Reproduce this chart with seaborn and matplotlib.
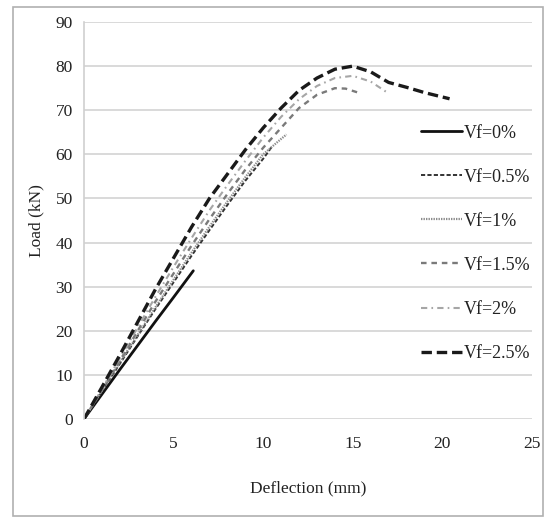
import numpy as np
import pandas as pd
import matplotlib
matplotlib.use("Agg")
import matplotlib.pyplot as plt
import seaborn as sns
from matplotlib.patches import Rectangle

# Load-deflection curves
x_0   = [0, 1, 2, 3, 4, 5, 6.1]
y_0   = [0, 5.6, 11.2, 16.7, 22.2, 27.6, 33.6]
x_05  = [0, 1, 2, 3, 4, 5, 6, 7, 8, 9, 10, 10.5]
y_05  = [0, 6.3, 12.5, 18.8, 25, 31, 37, 42.8, 48.5, 54, 59, 61.8]
x_1   = [0, 1, 2, 3, 4, 5, 6, 7, 8, 9, 10, 11, 11.3]
y_1   = [0, 6.4, 12.8, 19.1, 25.4, 31.6, 37.7, 43.6, 49.3, 54.8, 60, 63.5, 64.5]
x_15  = [0, 1, 2, 3, 4, 5, 6, 7, 8, 9, 10, 11, 12, 13, 14, 14.6, 15.3]
y_15  = [0, 6.5, 13.2, 20, 26.7, 33, 39.3, 45.3, 51, 56.5, 61.5, 66, 70.5, 73.5, 75, 74.9, 74]
x_2   = [0, 1, 2, 3, 4, 5, 6, 7, 8, 9, 10, 11, 12, 13, 14, 15, 16, 17]
y_2   = [0, 6.8, 13.8, 20.8, 27.8, 34.5, 41, 47.3, 53, 58.5, 63.8, 68.5, 72.5, 75.5, 77.3, 77.8, 76.5, 73.8]
x_25  = [0, 1, 2, 3, 4, 5, 6, 7, 8, 9, 10, 11, 12, 13, 14, 15, 16, 17, 18, 19, 20.4]
y_25  = [0, 7.2, 14.5, 22, 29.5, 36.5, 43.5, 50, 55.5, 61, 66, 70.5, 74.5, 77.3, 79.3, 80, 78.7, 76.3, 75.2, 74, 72.6]

labels = ["Vf=0%", "Vf=0.5%", "Vf=1%", "Vf=1.5%", "Vf=2%", "Vf=2.5%"]
xs = [x_0, x_05, x_1, x_15, x_2, x_25]
ys = [y_0, y_05, y_1, y_15, y_2, y_25]

colors = ["#111111", "#333333", "#8c8c8c", "#7a7a7a", "#a6a6a6", "#1a1a1a"]
dashes = [(None, None), (0, (3, 1.6)), (0, (1, 0.8)), (0, (4, 3.5)),
          (0, (4.5, 3, 1.2, 3)), (0, (7.5, 3.5))]
widths = [2.0, 1.4, 1.6, 1.7, 1.5, 2.4]

sns.set_theme(style="white")
plt.rcParams["font.family"] = ["Liberation Serif", "DejaVu Serif"]
plt.rcParams["lines.scale_dashes"] = False

df = pd.concat([pd.DataFrame({"Deflection": x, "Load": y, "series": lab})
                for x, y, lab in zip(xs, ys, labels)], ignore_index=True)

fig = plt.figure(figsize=(5.54, 5.17), dpi=100)
ax = fig.add_axes([0.1516, 0.1896, 0.8087, 0.7678])

for lab, col, ds, lw in zip(labels, colors, dashes, widths):
    sub = df[df["series"] == lab]
    sns.lineplot(data=sub, x="Deflection", y="Load", ax=ax, color=col,
                 lw=lw, label=lab, sort=False)
    line = ax.get_lines()[-1]
    if ds[0] is not None:
        line.set_linestyle(ds)

ax.set_xlim(0, 25)
ax.set_ylim(0, 90)
ax.set_xticks(range(0, 26, 5))
ax.set_yticks(range(0, 91, 10))
ax.yaxis.grid(True, color="#d9d9d9", lw=1.4)
ax.xaxis.grid(False)
for s in ["top", "right", "bottom"]:
    ax.spines[s].set_visible(False)
ax.spines["left"].set_color("#d0d0d0")
ax.spines["left"].set_linewidth(1.2)
ax.tick_params(axis="both", length=0, labelsize=12.5, colors="#222222", pad=8)
ax.tick_params(axis="x", pad=12)
ax.set_xlabel("Deflection (mm)", fontsize=12.5, color="#222222", labelpad=21)
ax.set_ylabel("Load (kN)", fontsize=12.5, color="#222222", labelpad=8)

leg = ax.legend(loc="upper left", bbox_to_anchor=(0.735, 0.76), frameon=False,
                fontsize=13, handlelength=2.3, handletextpad=0.1,
                labelspacing=1.5, borderaxespad=0)
for t in leg.get_texts():
    t.set_color("#222222")
for h, ds, lw in zip(leg.get_lines(), dashes, widths):
    if ds[0] is not None:
        h.set_linestyle(ds)

fig.patches.append(Rectangle((13 / 554, 1 - 516 / 517), 530 / 554, 509 / 517,
                             transform=fig.transFigure, fill=False,
                             edgecolor="#b0b0b0", lw=1.2))

fig.savefig("out.png", dpi=100)
